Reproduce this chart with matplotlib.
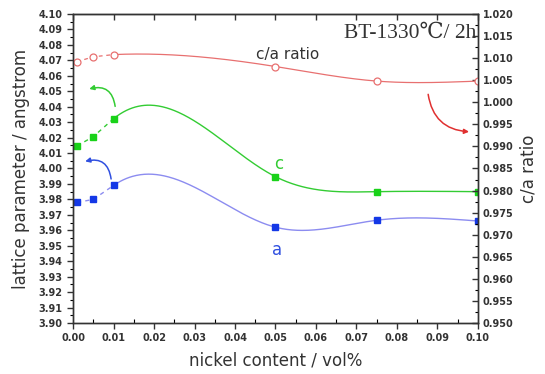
import numpy as np
import matplotlib
matplotlib.use("Agg")
import matplotlib.pyplot as plt

# data
x = [0.001, 0.005, 0.01, 0.05, 0.075, 0.10]
a_param = [3.978, 3.980, 3.989, 3.962, 3.9665, 3.966]
c_param = [4.0146, 4.0206, 4.0322, 3.9947, 3.985, 3.985]
ca_ratio = [1.0092, 1.0103, 1.0108, 1.0081, 1.0048, 1.0048]

left_ticks = [round(3.90 + 0.01 * i, 2) for i in range(21)]
right_ticks = [round(0.950 + 0.005 * i, 3) for i in range(15)]
x_ticks = [round(0.01 * i, 2) for i in range(11)]


def natural_spline(xs, ys, n=400):
    xs = np.asarray(xs, float)
    ys = np.asarray(ys, float)
    m = len(xs)
    h = np.diff(xs)
    A = np.zeros((m, m))
    r = np.zeros(m)
    A[0, 0] = 1
    A[-1, -1] = 1
    for i in range(1, m - 1):
        A[i, i - 1] = h[i - 1]
        A[i, i] = 2 * (h[i - 1] + h[i])
        A[i, i + 1] = h[i]
        r[i] = 6 * ((ys[i + 1] - ys[i]) / h[i] - (ys[i] - ys[i - 1]) / h[i - 1])
    M = np.linalg.solve(A, r)
    xx = np.linspace(xs[0], xs[-1], n)
    yy = np.empty_like(xx)
    for k, xv in enumerate(xx):
        i = min(np.searchsorted(xs, xv, side="right") - 1, m - 2)
        t1 = xs[i + 1] - xv
        t0 = xv - xs[i]
        yy[k] = (M[i] * t1 ** 3 / (6 * h[i]) + M[i + 1] * t0 ** 3 / (6 * h[i])
                 + (ys[i] / h[i] - M[i] * h[i] / 6) * t1
                 + (ys[i + 1] / h[i] - M[i + 1] * h[i] / 6) * t0)
    return xx, yy


fig = plt.figure(figsize=(5.45, 3.74), dpi=100)
ax = fig.add_axes([0.134, 0.1364, 0.743, 0.8262])
ax2 = ax.twinx()

col_a_line = "#8c8cf0"
col_a_mk = "#1438e6"
col_c = "#33cc33"
col_c_mk = "#19d219"
col_r = "#e87070"

# a
xx, yy = natural_spline(x, a_param)
sel = xx >= x[2]
ax.plot(x[:3], a_param[:3], ls=(0, (3, 3)), color=col_a_line, lw=1)
ax.plot(xx[sel], yy[sel], color=col_a_line, lw=1)
ax.plot(x, a_param, ls="none", marker="s", ms=5, color=col_a_mk, mec=col_a_mk)

# c
xx, yy = natural_spline(x, c_param)
sel = xx >= x[2]
ax.plot(x[:3], c_param[:3], ls=(0, (3, 3)), color=col_c, lw=1)
ax.plot(xx[sel], yy[sel], color=col_c, lw=1)
ax.plot(x, c_param, ls="none", marker="s", ms=5, color=col_c_mk, mec=col_c_mk)

# c/a
xx, yy = natural_spline(x, ca_ratio)
sel = xx >= x[2]
ax2.plot(x[:3], ca_ratio[:3], ls=(0, (3, 3)), color=col_r, lw=0.9)
ax2.plot(xx[sel], yy[sel], color=col_r, lw=0.9)
ax2.plot(x, ca_ratio, ls="none", marker="o", ms=5, mfc="white", mec=col_r, mew=0.9)

ax.set_xlim(0, 0.10)
ax.set_ylim(3.90, 4.10)
ax2.set_ylim(0.950, 1.020)

ax.set_xticks(x_ticks)
ax.set_xticklabels([f"{v:.2f}" for v in x_ticks])
ax.set_yticks(left_ticks)
ax.set_yticklabels([f"{v:.2f}" for v in left_ticks])
ax2.set_yticks(right_ticks)
ax2.set_yticklabels([f"{v:.3f}" for v in right_ticks])
ax.set_xticks(np.arange(0.005, 0.1, 0.01), minor=True)
ax.set_yticks(np.arange(3.905, 4.10, 0.01), minor=True)
ax2.set_yticks(np.arange(0.9525, 1.02, 0.005), minor=True)

tkw = dict(labelsize=7, labelcolor="#333333", color="#333333")
ax.tick_params(axis="x", which="major", direction="out", length=4, width=1, **tkw)
ax.tick_params(axis="x", which="minor", direction="in", length=3, width=0.8)
ax.tick_params(axis="y", which="major", direction="out", length=4, width=1, **tkw)
ax.tick_params(axis="y", which="minor", direction="out", length=2, width=0.8)
ax2.tick_params(axis="y", which="major", direction="in", length=4, width=1, **tkw)
ax2.tick_params(axis="y", which="minor", direction="in", length=2, width=0.8)

top = ax.secondary_xaxis("top")
top.set_xticks(x_ticks)
top.tick_params(axis="x", direction="in", length=4, width=1, color="#333333", labeltop=False)
top.spines["top"].set_color("#333333")

for lab in ax.get_xticklabels() + ax.get_yticklabels() + ax2.get_yticklabels():
    lab.set_fontweight("bold")
for sp in list(ax.spines.values()) + list(ax2.spines.values()):
    sp.set_color("#333333")
    sp.set_linewidth(1)

ax.set_ylabel("lattice parameter / angstrom", fontsize=12, color="#333333", labelpad=6)
ax.set_xlabel("nickel content / vol%", fontsize=12, color="#333333", labelpad=6)
ax2.set_ylabel("c/a ratio", fontsize=12, color="#333333", labelpad=4)

ax.text(0.0995, 4.0875, "BT-1330℃/ 2h", ha="right", va="center", fontsize=15.5,
        family=["Liberation Serif", "DejaVu Serif"], color="#333333")
ax.text(0.053, 4.074, "c/a ratio", ha="center", va="center", fontsize=11, color="#333333")
ax.text(0.0507, 4.003, "c", ha="center", va="center", fontsize=12, color=col_c)
ax.text(0.0505, 3.947, "a", ha="center", va="center", fontsize=12, color="#3050e0")

ax.annotate("", xy=(0.0040, 4.0515), xytext=(0.0104, 4.0402),
            arrowprops=dict(arrowstyle="-|>", color=col_c, lw=1.1, mutation_scale=7,
                            connectionstyle="arc3,rad=0.55", shrinkA=0, shrinkB=0))
ax.annotate("", xy=(0.0030, 4.0046), xytext=(0.0094, 3.9932),
            arrowprops=dict(arrowstyle="-|>", color="#3050e0", lw=1.1, mutation_scale=7,
                            connectionstyle="arc3,rad=0.55", shrinkA=0, shrinkB=0))
ax.annotate("", xy=(0.0978, 4.0238), xytext=(0.0877, 4.0480),
            arrowprops=dict(arrowstyle="-|>", color="#e03030", lw=1.1, mutation_scale=7,
                            connectionstyle="arc3,rad=0.4", shrinkA=0, shrinkB=0))

fig.savefig("out.png", dpi=100)
